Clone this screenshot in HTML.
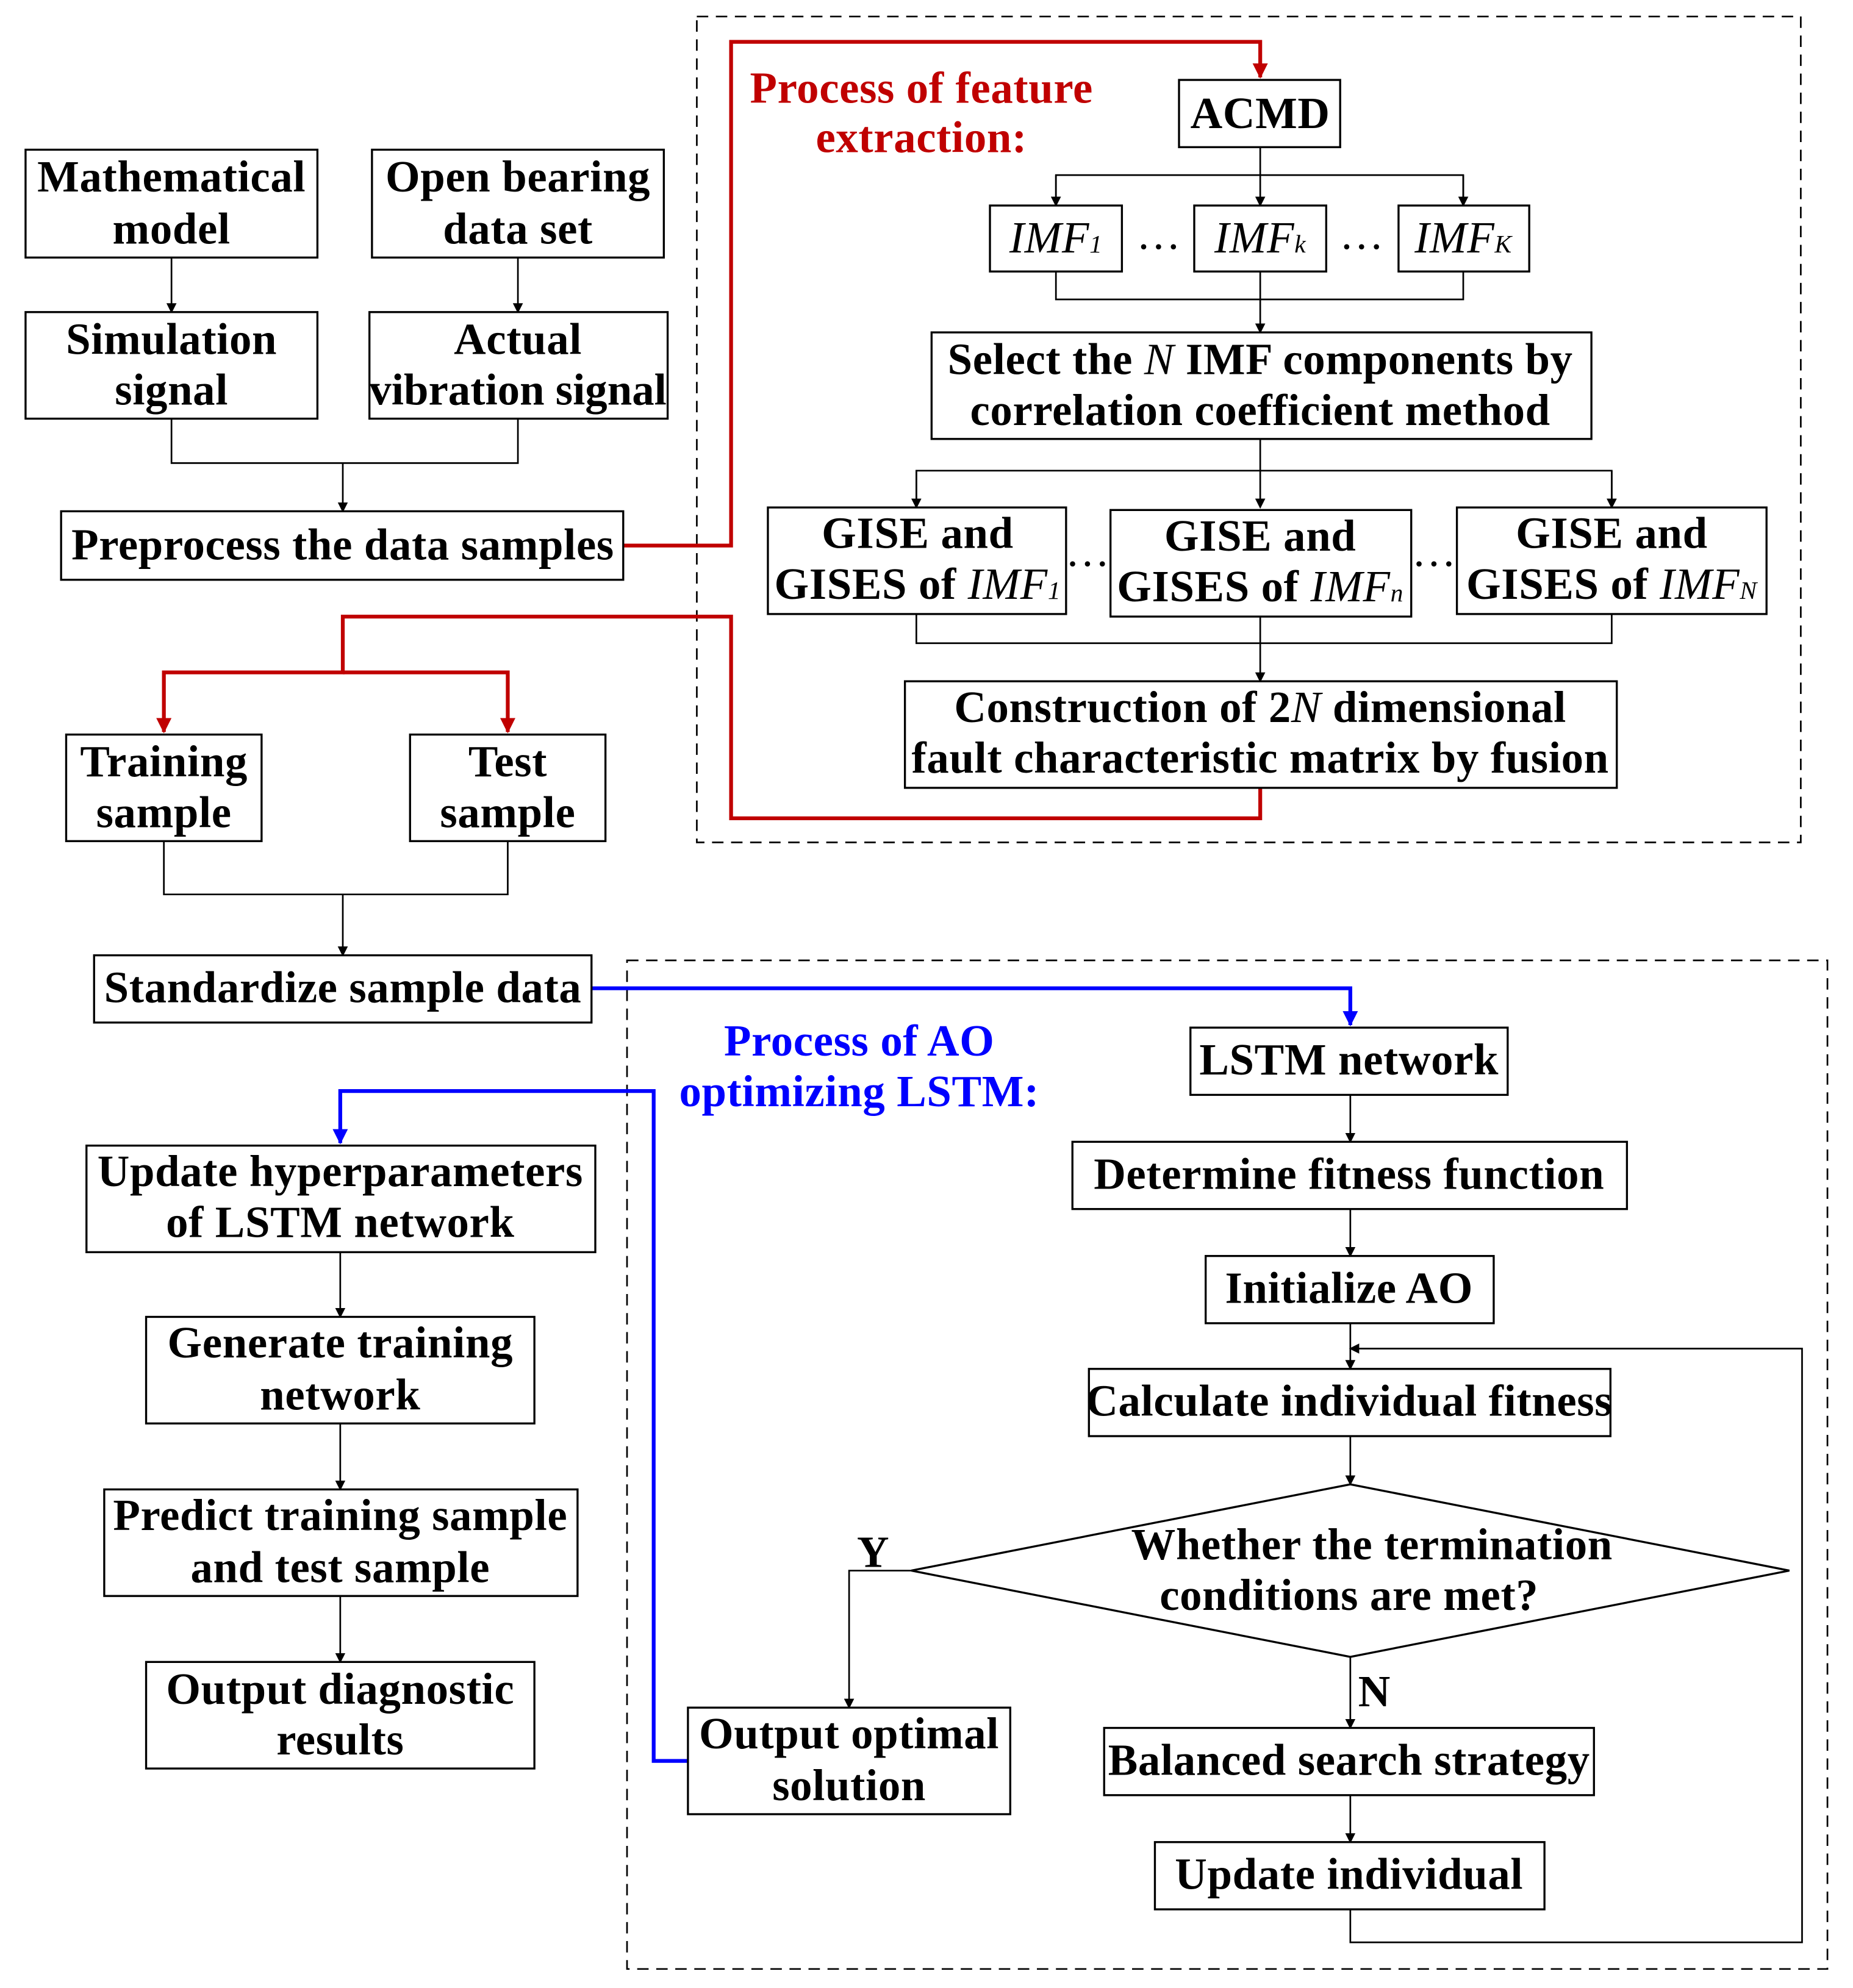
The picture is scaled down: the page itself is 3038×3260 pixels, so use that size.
<!DOCTYPE html>
<html><head><meta charset="utf-8"><style>html,body{margin:0;padding:0;background:#fff}svg{display:block}</style></head>
<body>
<svg xmlns="http://www.w3.org/2000/svg" width="3038" height="3260" viewBox="0 0 1460 1567">
<defs>
<marker id="a" markerWidth="8" markerHeight="8" refX="7" refY="4" orient="auto" markerUnits="userSpaceOnUse"><path d="M0,0 L8,4 L0,8 z" fill="#000"/></marker>
<marker id="r" markerWidth="12" markerHeight="12" refX="11" refY="6" orient="auto" markerUnits="userSpaceOnUse"><path d="M0,0 L12,6 L0,12 z" fill="#c00000"/></marker>
<marker id="b" markerWidth="12" markerHeight="12" refX="11" refY="6" orient="auto" markerUnits="userSpaceOnUse"><path d="M0,0 L12,6 L0,12 z" fill="#0000ff"/></marker>
</defs>
<style>
rect{fill:#fff;stroke:#000;stroke-width:1.6}
.d{fill:none;stroke:#000;stroke-width:1.3;stroke-dasharray:9,6}
.l{fill:none;stroke:#000;stroke-width:1.3}
.rl{fill:none;stroke:#c00000;stroke-width:3}
.bl{fill:none;stroke:#0000ff;stroke-width:3}
text{font-family:"Liberation Serif",serif;font-weight:bold;font-size:35px;letter-spacing:0.3px;text-anchor:middle;fill:#000}
.i{font-style:italic;font-weight:normal}
</style>
<rect class="d" x="549" y="13" width="870" height="651"/>
<rect class="d" x="494" y="757" width="946" height="795"/>

<path class="l" d="M135,203 V246" marker-end="url(#a)"/>
<path class="l" d="M408,203 V246" marker-end="url(#a)"/>
<path class="l" d="M135,330 V365 H408 V330 M270,365 V403" marker-end="url(#a)"/>
<path class="l" d="M129,663 V705 H400 V663 M270,705 V753" marker-end="url(#a)"/>
<path class="l" d="M268,987 V1038" marker-end="url(#a)"/>
<path class="l" d="M268,1122 V1174" marker-end="url(#a)"/>
<path class="l" d="M268,1258 V1310" marker-end="url(#a)"/>
<path class="l" d="M993,116 V162" marker-end="url(#a)"/>
<path class="l" d="M832,162 V138 H1153 V162" />
<path class="l" d="M832,138 V162" marker-end="url(#a)"/>
<path class="l" d="M1153,138 V162" marker-end="url(#a)"/>
<path class="l" d="M832,214 V236 H1153 V214 M993,214 V262" marker-end="url(#a)"/>
<path class="l" d="M993,346 V400" marker-end="url(#a)"/>
<path class="l" d="M722,400 V371 H1270 V400"/>
<path class="l" d="M722,371 V400" marker-end="url(#a)"/>
<path class="l" d="M1270,371 V400" marker-end="url(#a)"/>
<path class="l" d="M722,484 V507 H1270 V484 M993,484 V537" marker-end="url(#a)"/>
<path class="l" d="M1064,863 V900" marker-end="url(#a)"/>
<path class="l" d="M1064,953 V990" marker-end="url(#a)"/>
<path class="l" d="M1064,1043 V1079" marker-end="url(#a)"/>
<path class="l" d="M1064,1132 V1170" marker-end="url(#a)"/>
<path class="l" d="M1064,1306 V1362" marker-end="url(#a)"/>
<path class="l" d="M1064,1415 V1452" marker-end="url(#a)"/>
<path class="l" d="M1064,1505 V1531 H1420 V1063 H1064" marker-end="url(#a)"/>
<path class="l" d="M718,1238 H669 V1346" marker-end="url(#a)"/>
<polygon points="718,1238 1064,1170 1410,1238 1064,1306" fill="#fff" stroke="#000" stroke-width="1.6"/>

<path class="rl" d="M491,430 H576 V33 H993 V61" marker-end="url(#r)"/>
<path class="rl" d="M993,621 V645 H576 V486 H270 V530 H129 V577" marker-end="url(#r)"/>
<path class="rl" d="M270,530 H400 V577" marker-end="url(#r)"/>
<path class="bl" d="M466,779 H1064 V808" marker-end="url(#b)"/>
<path class="bl" d="M542,1388 H515 V860 H268 V901" marker-end="url(#b)"/>

<rect x="20" y="118" width="230" height="85"/><text x="135" y="151">Mathematical</text><text x="135" y="192">model</text>
<rect x="293" y="118" width="230" height="85"/><text x="408" y="151">Open bearing</text><text x="408" y="192">data set</text>
<rect x="20" y="246" width="230" height="84"/><text x="135" y="279">Simulation</text><text x="135" y="319">signal</text>
<rect x="291" y="246" width="235" height="84"/><text x="408" y="279">Actual</text><text x="408" y="319" style="letter-spacing:0">vibration signal</text>
<rect x="48" y="403" width="443" height="54"/><text x="270" y="441">Preprocess the data samples</text>
<rect x="52" y="579" width="154" height="84"/><text x="129" y="612">Training</text><text x="129" y="652">sample</text>
<rect x="323" y="579" width="154" height="84"/><text x="400" y="612">Test</text><text x="400" y="652">sample</text>
<rect x="74" y="753" width="392" height="53"/><text x="270" y="790">Standardize sample data</text>
<rect x="68" y="903" width="401" height="84"/><text x="268" y="935">Update hyperparameters</text><text x="268" y="975">of LSTM network</text>
<rect x="115" y="1038" width="306" height="84"/><text x="268" y="1070">Generate training</text><text x="268" y="1111">network</text>
<rect x="82" y="1174" width="373" height="84"/><text x="268" y="1206">Predict training sample</text><text x="268" y="1247">and test sample</text>
<rect x="115" y="1310" width="306" height="84"/><text x="268" y="1343">Output diagnostic</text><text x="268" y="1383">results</text>

<rect x="929" y="63" width="127" height="53"/><text x="993" y="101">ACMD</text>
<rect x="780" y="162" width="104" height="52"/><text x="832" y="199" class="i">IMF<tspan font-size="20">1</tspan></text>
<rect x="941" y="162" width="104" height="52"/><text x="993" y="199" class="i">IMF<tspan font-size="20">k</tspan></text>
<rect x="1102" y="162" width="103" height="52"/><text x="1153" y="199" class="i">IMF<tspan font-size="20">K</tspan></text>
<text x="913" y="196" style="font-weight:normal">…</text><text x="1073" y="196" style="font-weight:normal">…</text>
<rect x="734" y="262" width="520" height="84"/><text x="993" y="295">Select the <tspan class="i">N</tspan> IMF components by</text><text x="993" y="335">correlation coefficient method</text>
<rect x="605" y="400" width="235" height="84"/><text x="723" y="432">GISE and</text><text x="723" y="472">GISES of <tspan class="i">IMF</tspan><tspan class="i" font-size="20">1</tspan></text>
<rect x="875" y="402" width="237" height="84"/><text x="993" y="434">GISE and</text><text x="993" y="474">GISES of <tspan class="i">IMF</tspan><tspan class="i" font-size="20">n</tspan></text>
<rect x="1148" y="400" width="244" height="84"/><text x="1270" y="432">GISE and</text><text x="1270" y="472">GISES of <tspan class="i">IMF</tspan><tspan class="i" font-size="20">N</tspan></text>
<text x="857" y="446" style="font-weight:normal">…</text><text x="1130" y="446" style="font-weight:normal">…</text>
<rect x="713" y="537" width="561" height="84"/><text x="993" y="569">Construction of 2<tspan class="i">N</tspan> dimensional</text><text x="993" y="609">fault characteristic matrix by fusion</text>
<text x="726" y="81" style="fill:#c00000">Process of feature</text><text x="726" y="120" style="fill:#c00000">extraction:</text>

<text x="677" y="832" style="fill:#0000ff">Process of AO</text><text x="677" y="872" style="fill:#0000ff">optimizing LSTM:</text>
<rect x="938" y="810" width="250" height="53"/><text x="1063" y="847">LSTM network</text>
<rect x="845" y="900" width="437" height="53"/><text x="1063" y="937">Determine fitness function</text>
<rect x="950" y="990" width="227" height="53"/><text x="1063" y="1027">Initialize AO</text>
<rect x="858" y="1079" width="411" height="53"/><text x="1063" y="1116">Calculate individual fitness</text>
<text x="1081" y="1229">Whether the termination</text><text x="1063" y="1269">conditions  are met?</text>
<text x="688" y="1235">Y</text><text x="1083" y="1345">N</text>
<rect x="542" y="1346" width="254" height="84"/><text x="669" y="1378">Output optimal</text><text x="669" y="1419">solution</text>
<rect x="870" y="1362" width="386" height="53"/><text x="1063" y="1399">Balanced search strategy</text>
<rect x="910" y="1452" width="307" height="53"/><text x="1063" y="1489">Update individual</text>
</svg>
</body></html>
